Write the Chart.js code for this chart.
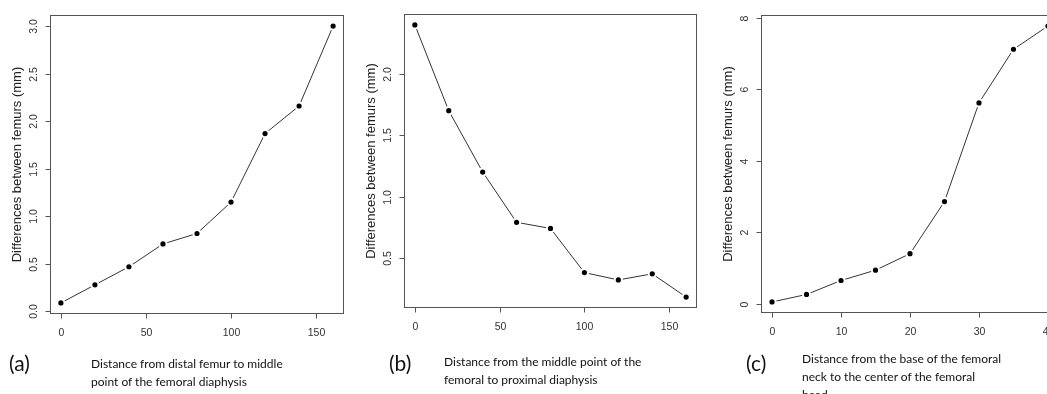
<!DOCTYPE html>
<html lang="en">
<head>
  <meta charset="UTF-8">
  <title>Differences between femurs</title>
  <script src="https://cdn.jsdelivr.net/npm/chart.js"></script>
  <style>
    html, body { margin: 0; padding: 0; background: #fff; overflow: hidden; width: 1047px; height: 394px; }
    .panel { position: absolute; top: 0; height: 394px; }
    .tag { position: absolute; font-family: Lato, "Liberation Sans", sans-serif; font-size: 21px; color: #111; }
    .cap { position: absolute; font-family: Lato, "Liberation Sans", sans-serif; font-size: 12px; line-height: 18px; color: #111; white-space: nowrap; }
  </style>
</head>
<body>
  <div class="panel" style="left:0; width:350px;"><canvas id="chartA"></canvas></div>
  <div class="panel" style="left:350px; width:360px;"><canvas id="chartB"></canvas></div>
  <div class="panel" style="left:700px; width:370px;"><canvas id="chartC"></canvas></div>

  <div class="tag" style="left:9px; top:350px;">(a)</div>
  <div class="cap" style="left:91px; top:355px;">Distance from distal femur to middle<br>point of the femoral diaphysis</div>

  <div class="tag" style="left:389px; top:350px;">(b)</div>
  <div class="cap" style="left:444px; top:353px;">Distance from the middle point of the<br>femoral to proximal diaphysis</div>

  <div class="tag" style="left:746px; top:350px;">(c)</div>
  <div class="cap" style="left:802px; top:350px;">Distance from the base of the femoral<br>neck to the center of the femoral<br>head</div>

  <script>
    // distances (x) and differences between femurs in mm (y)
    const distA = [0, 20, 40, 60, 80, 100, 120, 140, 160];
    const diffA = [0.09, 0.28, 0.47, 0.71, 0.82, 1.15, 1.87, 2.16, 3.0];

    const distB = [0, 20, 40, 60, 80, 100, 120, 140, 160];
    const diffB = [2.40, 1.70, 1.20, 0.79, 0.74, 0.38, 0.32, 0.37, 0.18];

    const distC = [0, 5, 10, 15, 20, 25, 30, 35, 40];
    const diffC = [0.05, 0.26, 0.65, 0.94, 1.40, 2.86, 5.62, 7.12, 7.77];

    // tick labels
    const xTicksAB = [0, 50, 100, 150];
    const xTicksC = [0, 10, 20, 30, 40];
    const yTicksA = [0, 0.5, 1, 1.5, 2, 2.5, 3];
    const yTicksB = [0.5, 1, 1.5, 2];
    const yTicksC = [0, 2, 4, 6, 8];

    const yTitle = 'Differences between femurs (mm)';

    // R-like axis range: data range widened by 4% on each side
    function rRange(vals) {
      const lo = Math.min(...vals), hi = Math.max(...vals);
      const pad = (hi - lo) * 0.04;
      return { min: lo - pad, max: hi + pad };
    }

    // draws the box, outside ticks and rotated labels like base R graphics
    const rAxes = {
      id: 'rAxes',
      afterDatasetsDraw(chart, args, opts) {
        const { ctx, chartArea: a, scales: { x, y } } = chart;
        ctx.save();
        ctx.strokeStyle = '#555';
        ctx.lineWidth = 1;
        ctx.strokeRect(Math.round(a.left) + 0.5, Math.round(a.top) + 0.5,
                       Math.round(a.width) - 1, Math.round(a.height) - 1);

        ctx.font = '10.5px "Liberation Sans", Arial, sans-serif';
        ctx.fillStyle = '#333';

        // x axis
        ctx.textAlign = 'center';
        ctx.textBaseline = 'middle';
        const bottom = Math.round(a.bottom) - 0.5;
        opts.xTicks.forEach(v => {
          const px = Math.round(x.getPixelForValue(v)) + 0.5;
          ctx.beginPath();
          ctx.moveTo(px, bottom);
          ctx.lineTo(px, bottom + 5);
          ctx.stroke();
          ctx.fillText(String(v), px, a.bottom + 19);
        });

        // y axis
        const left = Math.round(a.left) + 0.5;
        opts.yTicks.forEach(v => {
          const py = Math.round(y.getPixelForValue(v)) + 0.5;
          ctx.beginPath();
          ctx.moveTo(left, py);
          ctx.lineTo(left - 5, py);
          ctx.stroke();
          ctx.save();
          ctx.translate(a.left - 16, py);
          ctx.rotate(-Math.PI / 2);
          ctx.fillText(v.toFixed(opts.decimals), 0, 0);
          ctx.restore();
        });

        // y title
        ctx.save();
        ctx.font = '13px "Liberation Sans", Arial, sans-serif';
        ctx.fillStyle = '#222';
        ctx.translate(a.left - 33, (a.top + a.bottom) / 2);
        ctx.rotate(-Math.PI / 2);
        ctx.fillText(yTitle, 0, 0);
        ctx.restore();

        ctx.restore();
      }
    };

    function makeChart(id, xs, ys, xTicks, yTicks, decimals, width, padding) {
      const canvas = document.getElementById(id);
      canvas.width = width;
      canvas.height = 394;
      const xr = rRange(xs), yr = rRange(ys);
      return new Chart(canvas, {
        type: 'line',
        data: {
          datasets: [{
            data: xs.map((v, i) => ({ x: v, y: ys[i] })),
            borderColor: '#333',
            borderWidth: 1,
            pointRadius: 3.6,
            pointBackgroundColor: '#000',
            pointBorderColor: '#fff',
            pointBorderWidth: 2,
            tension: 0
          }]
        },
        options: {
          responsive: false,
          animation: false,
          layout: { padding: padding },
          plugins: {
            legend: { display: false },
            tooltip: { enabled: false },
            rAxes: { xTicks: xTicks, yTicks: yTicks, decimals: decimals }
          },
          scales: {
            x: { type: 'linear', display: false, min: xr.min, max: xr.max },
            y: { type: 'linear', display: false, min: yr.min, max: yr.max }
          }
        },
        plugins: [rAxes]
      });
    }

    makeChart('chartA', distA, diffA, xTicksAB, yTicksA, 1, 350,
      { left: 50, right: 2, top: 15, bottom: 80 });
    makeChart('chartB', distB, diffB, xTicksAB, yTicksB, 1, 360,
      { left: 54, right: 13, top: 14, bottom: 86 });
    makeChart('chartC', distC, diffC, xTicksC, yTicksC, 0, 370,
      { left: 61, right: 11, top: 15, bottom: 81 });
  </script>
</body>
</html>
